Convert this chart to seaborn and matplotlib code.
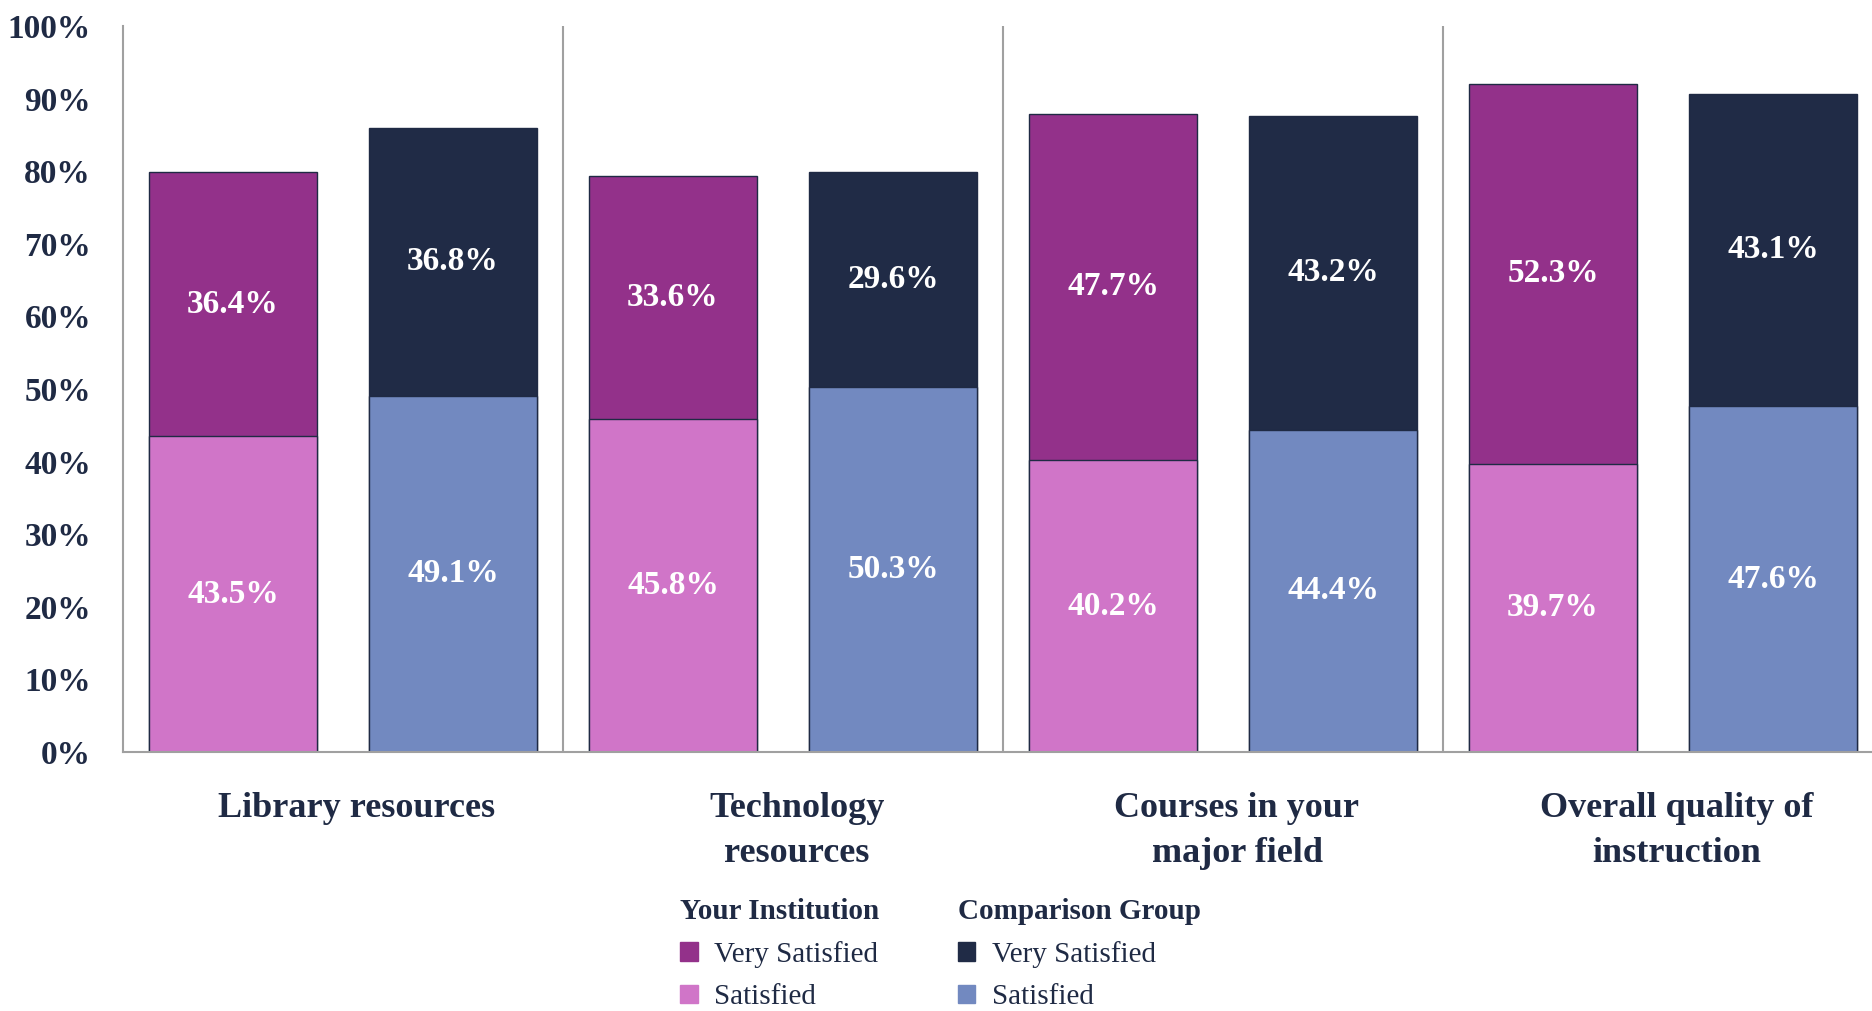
import pandas as pd
import seaborn as sns
import matplotlib.pyplot as plt
from matplotlib.patches import Patch
from matplotlib.transforms import ScaledTranslation

categories = ["Library resources", "Technology\nresources",
              "Courses in your\nmajor field", "Overall quality of\ninstruction"]
groups = ["Your Institution", "Comparison Group"]

your_satisfied = [43.5, 45.8, 40.2, 39.7]
your_very = [36.4, 33.6, 47.7, 52.3]
comp_satisfied = [49.1, 50.3, 44.4, 47.6]
comp_very = [36.8, 29.6, 43.2, 43.1]

y_ticks = [0, 10, 20, 30, 40, 50, 60, 70, 80, 90, 100]

VS_YOUR, S_YOUR = "#93318A", "#D075C8"
VS_COMP, S_COMP = "#202B46", "#7289C0"
NAVY = "#1F2A44"
GRID = "#A0A0A0"

rows = []
for i, cat in enumerate(categories):
    rows.append(dict(category=cat, group=groups[0], satisfied=your_satisfied[i], very=your_very[i]))
    rows.append(dict(category=cat, group=groups[1], satisfied=comp_satisfied[i], very=comp_very[i]))
df = pd.DataFrame(rows)
df["total"] = df["satisfied"] + df["very"]

sns.set_style("white")
plt.rcParams["font.family"] = ["Liberation Serif", "DejaVu Serif"]

fig = plt.figure(figsize=(18.72, 10.11), dpi=100)
ax = fig.add_axes([123 / 1872, 1 - 752 / 1011, 1760 / 1872, 726 / 1011])

bar_kw = dict(x="category", y="total", hue="group", order=categories, hue_order=groups,
              width=1.0, gap=0.234, edgecolor=NAVY, linewidth=1.0, legend=False, ax=ax,
              saturation=1, errorbar=None)
sns.barplot(data=df, palette=[VS_YOUR, VS_COMP], **bar_kw)
bar_kw["y"] = "satisfied"
sns.barplot(data=df, palette=[S_YOUR, S_COMP], **bar_kw)

# value labels centred in each segment
for gi, grp in enumerate(groups):
    sub = df[df["group"] == grp].set_index("category").loc[categories]
    for patch, s, v in zip(ax.containers[gi], sub["satisfied"], sub["very"]):
        xc = patch.get_x() + patch.get_width() / 2
        ax.text(xc, s / 2, f"{s:.1f}%", ha="center", va="center", color="white",
                fontsize=24, fontweight="bold")
        ax.text(xc, s + v / 2, f"{v:.1f}%", ha="center", va="center", color="white",
                fontsize=24, fontweight="bold")

ax.set_xlim(-0.5, len(categories) - 0.5)
ax.set_ylim(0, 100)
ax.set_yticks(y_ticks)
ax.set_yticklabels([f"{t}%" for t in y_ticks])
ax.set_xlabel("")
ax.set_ylabel("")
for k in range(1, len(categories)):
    ax.axvline(k - 0.5, color=GRID, linewidth=1.5, zorder=0)

for side in ["top", "right"]:
    ax.spines[side].set_visible(False)
for side in ["left", "bottom"]:
    ax.spines[side].set_color(GRID)
    ax.spines[side].set_linewidth(1.5)

ax.tick_params(axis="y", length=0, pad=23, labelsize=24, labelcolor=NAVY)
ax.tick_params(axis="x", length=0, pad=29, labelsize=26, labelcolor=NAVY)
shift = ScaledTranslation(14 / 100, 0, fig.dpi_scale_trans)
for lab in ax.get_yticklabels() + ax.get_xticklabels():
    lab.set_fontweight("bold")
for lab in ax.get_xticklabels():
    lab.set_linespacing(1.45)
    lab.set_transform(lab.get_transform() + shift)

leg_kw = dict(loc="upper left", frameon=False, fontsize=21, handlelength=0.6, handleheight=0.6,
              handletextpad=0.55, labelspacing=0.55, borderpad=0, borderaxespad=0,
              alignment="left", title_fontproperties={"weight": "bold", "size": 21})
leg1 = fig.legend(handles=[Patch(color=VS_YOUR, label="Very Satisfied"),
                           Patch(color=S_YOUR, label="Satisfied")],
                  title=groups[0], bbox_to_anchor=(680 / 1872, 1 - 898 / 1011), **leg_kw)
leg2 = fig.legend(handles=[Patch(color=VS_COMP, label="Very Satisfied"),
                           Patch(color=S_COMP, label="Satisfied")],
                  title=groups[1], bbox_to_anchor=(958 / 1872, 1 - 898 / 1011), **leg_kw)
for leg in (leg1, leg2):
    leg.get_title().set_color(NAVY)
    for t in leg.get_texts():
        t.set_color(NAVY)

fig.savefig("out.png", dpi=100)
